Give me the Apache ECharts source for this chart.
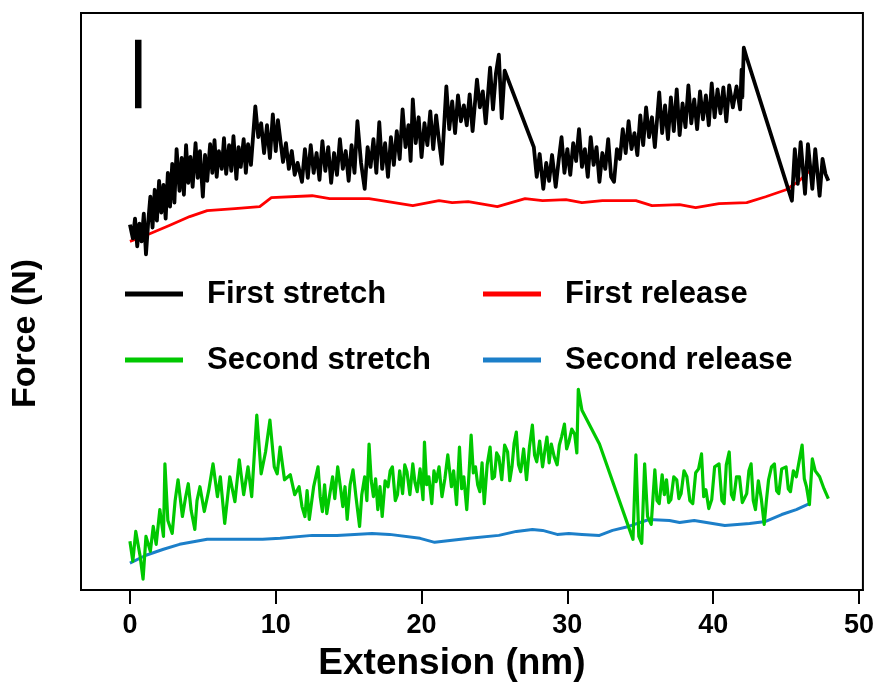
<!DOCTYPE html>
<html>
<head>
<meta charset="utf-8">
<title>Force vs Extension</title>
<script src="https://cdn.jsdelivr.net/npm/echarts@6/dist/echarts.min.js"></script>
<style>
  html, body { margin: 0; padding: 0; background: #fff; }
  #chart { width: 877px; height: 687px; }
</style>
</head>
<body>
<div id="chart"></div>
<script>
// ====== Data (extension in nm, force in arbitrary units) ======
var xTicks = [0, 10, 20, 30, 40, 50];

var firstStretch = [
  [0,36.8],[0.2,35.4],[0.35,37.4],[0.5,34.6],[0.65,36.9],[0.8,35.1],[0.95,37.9],[1.1,33.8],[1.25,37.0],[1.4,39.6],
  [1.55,36.5],[1.7,40.3],[1.85,37.2],[2.0,41.2],[2.15,38.0],[2.3,40.8],[2.45,37.4],[2.6,42.0],[2.75,38.6],[2.9,42.9],
  [3.05,39.0],[3.2,44.4],[3.4,40.2],[3.55,43.5],[3.7,39.8],[3.85,44.8],[4.0,41.0],[4.15,43.6],[4.3,40.6],[4.5,45.0],
  [4.65,41.5],[4.8,44.2],[5.0,39.6],[5.15,43.8],[5.3,41.2],[5.5,44.9],[5.65,42.0],[5.8,45.3],[5.95,41.6],[6.1,44.2],
  [6.3,42.4],[6.45,45.5],[6.6,41.9],[6.8,44.8],[6.95,42.2],[7.1,45.7],[7.3,41.4],[7.45,44.6],[7.6,42.6],[7.8,45.4],
  [7.95,42.0],[8.1,44.9],[8.3,42.8],[8.6,48.7],[8.8,45.6],[9.0,47.0],[9.2,44.0],[9.4,46.8],[9.6,43.5],[9.8,47.9],
  [10.0,44.2],[10.15,47.3],[10.5,43.1],[10.7,45.0],[10.9,42.4],[11.1,44.2],[11.3,41.8],[11.5,43.0],[11.8,41.1],[12.0,44.4],
  [12.2,41.5],[12.4,44.8],[12.6,42.0],[12.8,44.0],[13.0,41.3],[13.2,45.2],[13.4,42.2],[13.6,44.6],[13.8,41.0],[14.0,44.0],
  [14.2,41.8],[14.4,45.4],[14.6,42.4],[14.8,44.2],[15.0,41.2],[15.2,44.8],[15.4,42.0],[15.6,47.2],[15.85,43.0],[16.1,40.4],
  [16.3,44.6],[16.5,42.6],[16.7,45.4],[16.9,42.0],[17.1,47.1],[17.3,42.4],[17.5,45.0],[17.7,41.6],[17.9,45.6],[18.1,42.8],
  [18.3,46.2],[18.5,43.4],[18.7,48.4],[18.9,44.6],[19.1,46.8],[19.25,43.2],[19.4,49.4],[19.6,45.0],[19.8,47.6],[20.0,43.6],
  [20.2,47.0],[20.4,44.8],[20.6,48.2],[20.8,44.4],[21.0,47.8],[21.2,45.2],[21.4,42.9],[21.7,50.7],[21.9,46.4],[22.1,49.2],
  [22.3,46.0],[22.5,49.8],[22.7,47.2],[22.9,48.8],[23.1,46.8],[23.3,49.9],[23.5,46.2],[23.8,51.4],[24.0,48.6],[24.2,50.2],
  [24.4,47.0],[24.7,52.6],[24.9,48.4],[25.1,52.0],[25.3,53.9],[25.5,47.5],[25.7,52.3],
  [27.7,44.6],[27.9,41.6],[28.1,43.9],[28.35,40.4],[28.55,43.0],[28.75,41.2],[28.95,43.8],[29.2,40.6],[29.4,43.2],[29.6,45.6],
  [29.8,42.0],[30.0,44.4],[30.2,41.8],[30.4,45.0],[30.6,43.2],[30.8,46.4],[31.0,42.6],[31.2,44.4],[31.4,41.6],[31.6,45.6],
  [31.8,42.8],[32.0,44.6],[32.2,41.1],[32.4,44.0],[32.6,42.4],[32.8,45.4],[33.0,41.6],[33.2,41.1],[33.4,44.4],[33.6,43.4],
  [33.8,46.4],[34.0,44.0],[34.2,47.2],[34.4,44.4],[34.6,46.0],[34.8,43.8],[35.0,47.8],[35.2,44.8],[35.4,48.6],[35.6,45.6],
  [35.8,47.6],[36.0,44.6],[36.3,50.1],[36.5,46.0],[36.7,48.8],[36.9,45.4],[37.1,49.6],[37.3,46.2],[37.5,50.4],[37.7,45.8],
  [37.9,49.0],[38.1,46.6],[38.3,50.8],[38.5,47.0],[38.7,49.4],[38.9,46.4],[39.1,50.2],[39.3,47.4],[39.5,49.8],[39.7,46.8],
  [39.9,51.0],[40.1,47.6],[40.3,50.4],[40.5,48.0],[40.7,50.6],[40.9,47.2],[41.1,50.8],[41.35,48.6],[41.6,50.7],[41.85,48.4],
  [41.95,52.4],[42.0,49.6],[42.1,54.6],[42.3,53.6],
  [45.4,39.2],[45.6,44.4],[45.8,40.9],[46.0,45.1],[46.3,39.9],[46.5,44.9],[46.8,40.4],[47.0,44.4],[47.3,39.7],[47.5,43.4],
  [47.7,41.9],[47.9,41.2]
];

var firstRelease = [
  [0,35.1],[0.7,35.5],[1.4,35.9],[2.7,36.7],[4.1,37.6],[5.3,38.2],[7.2,38.4],[8.9,38.6],[9.7,39.5],[12.5,39.7],[13.7,39.4],
  [16.4,39.4],[19.4,38.7],[21.2,39.2],[22.1,39.0],[23.2,39.1],[25.2,38.6],[27.1,39.4],[28.3,39.2],[29.9,39.3],[31.0,39.0],
  [32.4,39.2],[34.7,39.2],[35.8,38.7],[37.7,38.8],[38.8,38.5],[40.4,38.9],[42.3,39.0],[43.6,39.6],[45.0,40.3],[45.9,41.2],
  [46.6,42.2]
];

var secondStretch = [
  [0,4.9],[0.2,2.9],[0.4,5.9],[0.7,3.4],[0.9,1.1],[1.1,5.4],[1.4,3.9],[1.6,6.4],[1.8,4.6],[2.05,8.1],
  [2.3,5.4],[2.4,12.7],[2.6,7.0],[2.9,5.7],[3.1,9.0],[3.3,11.1],[3.6,7.4],[3.8,9.2],[4.0,10.7],[4.2,8.0],[4.45,6.1],
  [4.6,9.0],[4.8,10.4],[5.1,7.9],[5.4,10.0],[5.7,12.7],[6.0,9.4],[6.2,11.4],[6.5,6.7],[6.85,11.4],[7.2,8.9],[7.5,13.1],
  [7.8,9.6],[8.1,12.4],[8.35,9.4],[8.7,17.6],[9.0,11.7],[9.3,13.9],[9.6,17.1],[9.9,12.4],[10.1,11.7],[10.3,14.4],
  [10.6,11.1],[11.0,11.6],[11.3,9.6],[11.6,10.4],[11.8,8.4],[12.0,7.4],[12.15,10.0],[12.3,7.1],[12.6,10.4],[12.9,12.4],
  [13.05,9.4],[13.2,7.9],[13.35,10.6],[13.5,7.7],[13.7,9.6],[13.9,11.4],[14.05,9.2],[14.25,12.4],[14.45,10.2],[14.6,8.4],
  [14.75,10.4],[14.9,7.1],[15.1,10.6],[15.3,12.1],[15.5,9.4],[15.75,6.4],[15.9,9.6],[16.1,11.4],[16.25,9.0],[16.4,14.7],
  [16.55,11.0],[16.7,9.4],[16.85,11.2],[17.0,8.1],[17.15,10.4],[17.3,7.4],[17.5,11.0],[17.7,10.4],[17.85,12.0],[18.0,12.4],
  [18.2,9.0],[18.35,9.6],[18.5,12.0],[18.7,9.7],[18.85,12.6],[19.0,11.9],[19.2,9.6],[19.4,12.7],[19.55,10.8],[19.7,9.9],
  [19.9,12.2],[20.1,9.1],[20.2,14.9],[20.35,10.6],[20.5,11.4],[20.7,8.7],[20.85,12.0],[21.0,10.9],[21.2,12.4],[21.4,9.4],
  [21.6,11.2],[21.8,13.6],[22.05,10.4],[22.2,12.0],[22.4,8.6],[22.6,14.4],[22.75,10.2],[22.9,11.4],[23.1,8.1],[23.25,11.6],
  [23.4,15.6],[23.55,11.8],[23.7,12.4],[23.85,10.6],[24.0,9.9],[24.15,12.8],[24.3,8.7],[24.5,12.6],[24.7,14.4],[24.85,11.2],
  [25.0,11.4],[25.15,13.8],[25.3,13.4],[25.5,11.1],[25.7,14.6],[25.9,13.9],[26.05,11.0],[26.2,12.4],[26.35,14.8],[26.5,15.9],
  [26.65,12.6],[26.8,11.9],[27.0,14.2],[27.2,11.1],[27.4,14.4],[27.6,16.6],[27.75,13.6],[27.9,12.9],[28.1,15.0],[28.3,12.4],
  [28.45,14.0],[28.6,15.4],[28.75,12.8],[28.9,14.7],[29.1,13.4],[29.3,12.6],[29.45,14.6],[29.6,15.4],[29.8,16.7],[29.95,14.2],
  [30.1,14.9],[30.3,16.2],[30.5,15.7],[30.65,13.8],[30.75,20.2],[31.0,18.1],[32.2,14.7],
  [34.5,5.1],[34.7,13.6],[34.9,5.4],[35.1,4.7],[35.3,12.7],[35.5,7.4],[35.75,6.6],[36.0,12.1],[36.15,9.0],[36.3,8.7],
  [36.5,11.6],[36.65,9.6],[36.8,11.1],[36.95,8.8],[37.1,9.1],[37.3,11.4],[37.5,11.1],[37.65,9.2],[37.8,9.7],[38.0,12.0],
  [38.2,11.4],[38.4,9.0],[38.6,8.7],[38.8,11.8],[39.0,12.2],[39.2,13.7],[39.35,9.4],[39.5,10.1],[39.7,8.2],[39.9,9.1],
  [40.1,12.4],[40.4,12.7],[40.6,9.0],[40.75,8.7],[40.9,12.6],[41.1,13.9],[41.25,9.6],[41.4,9.1],[41.6,11.4],[41.8,11.4],
  [42.0,8.8],[42.3,9.7],[42.45,12.0],[42.6,12.7],[42.75,9.0],[42.9,8.1],[43.1,11.0],[43.3,9.2],[43.5,6.6],[43.65,9.0],
  [43.8,11.1],[44.0,12.4],[44.2,12.7],[44.35,10.0],[44.5,9.7],[44.7,12.2],[45.0,12.4],[45.15,10.2],[45.3,9.9],[45.5,12.0],
  [45.7,11.4],[45.9,13.0],[46.1,14.6],[46.25,11.2],[46.4,10.4],[46.6,8.6],[46.8,13.2],[47.0,12.0],[47.3,11.4],[47.6,10.2],
  [47.9,9.2]
];

var secondRelease = [
  [0,2.7],[1.1,3.5],[2.3,4.1],[3.4,4.6],[5.3,5.1],[7.5,5.1],[9.1,5.1],[10.3,5.2],[12.5,5.5],[14.2,5.5],[16.6,5.7],
  [17.8,5.6],[19.9,5.2],[20.9,4.8],[23.3,5.2],[25.3,5.5],[26.5,5.9],[27.6,6.1],[28.3,6.0],[29.3,5.6],[30.1,5.7],
  [31.0,5.6],[32.2,5.5],[33.1,6.0],[34.2,6.4],[35.6,7.1],[37.0,7.0],[37.7,6.8],[38.7,7.0],[40.8,6.5],[42.5,6.7],
  [43.6,6.9],[44.7,7.6],[45.7,8.1],[46.6,8.7]
];

// vertical scale bar in the top left corner
var scaleBar = [[0.57, 55.4], [0.57, 48.5]];

// ====== Chart ======
(function() {
  var font = '"Liberation Sans", Arial, sans-serif';
  var chart = echarts.init(document.getElementById('chart'), null, { renderer: 'canvas' });

  function lineSeries(name, data, color, width, z) {
    return {
      name: name,
      type: 'line',
      data: data,
      symbol: 'none',
      z: z,
      lineStyle: { color: color, width: width, join: 'round' },
      itemStyle: { color: color }
    };
  }

  var legendText = {
    color: '#000', fontFamily: font, fontWeight: 'bold', fontSize: 31,
    lineHeight: 36, padding: [0, 0, 8, 19]
  };

  chart.setOption({
    animation: false,
    backgroundColor: '#fff',
    grid: {
      left: 81, right: 13, top: 13, bottom: 93,
      show: true, borderColor: '#000', borderWidth: 2, backgroundColor: 'transparent'
    },
    legend: [
      {
        data: ['First stretch', 'Second stretch'],
        orient: 'vertical', left: 125, top: 272, padding: 0,
        icon: 'rect', itemWidth: 58, itemHeight: 5, itemGap: 22,
        textStyle: legendText
      },
      {
        data: ['First release', 'Second release'],
        orient: 'vertical', left: 483, top: 272, padding: 0,
        icon: 'rect', itemWidth: 58, itemHeight: 5, itemGap: 22,
        textStyle: legendText
      }
    ],
    xAxis: {
      type: 'value',
      min: -3.356, max: 50.27,
      name: 'Extension (nm)',
      nameLocation: 'middle',
      nameGap: 55,
      nameTextStyle: {
        color: '#000', fontFamily: font, fontWeight: 'bold', fontSize: 37,
        padding: [0, 40, 0, 0]
      },
      axisLine: { show: true, lineStyle: { color: '#000', width: 2 } },
      axisTick: { show: true, length: 14, customValues: xTicks, lineStyle: { color: '#000', width: 2 } },
      axisLabel: {
        customValues: xTicks, margin: 22,
        color: '#000', fontFamily: font, fontWeight: 'bold', fontSize: 27
      },
      splitLine: { show: false }
    },
    yAxis: {
      type: 'value',
      min: 0, max: 58.1,
      name: 'Force (N)',
      nameLocation: 'middle',
      nameGap: 38,
      nameTextStyle: {
        color: '#000', fontFamily: font, fontWeight: 'bold', fontSize: 34,
        padding: [0, 64, 0, 0]
      },
      axisLine: { show: false },
      axisTick: { show: false },
      axisLabel: { show: false },
      splitLine: { show: false }
    },
    series: [
      lineSeries('First release', firstRelease, '#ff0000', 2.8, 2),
      lineSeries('Second release', secondRelease, '#1c7fc9', 3, 2),
      lineSeries('First stretch', firstStretch, '#000000', 3.8, 3),
      lineSeries('Second stretch', secondStretch, '#00c800', 3.2, 3),
      {
        name: 'scale bar',
        type: 'line',
        data: scaleBar,
        symbol: 'none',
        silent: true,
        lineStyle: { color: '#000', width: 6.5, cap: 'butt' }
      }
    ]
  });

  window.addEventListener('resize', function() {
    chart.resize();
  });
})();
</script>
</body>
</html>
